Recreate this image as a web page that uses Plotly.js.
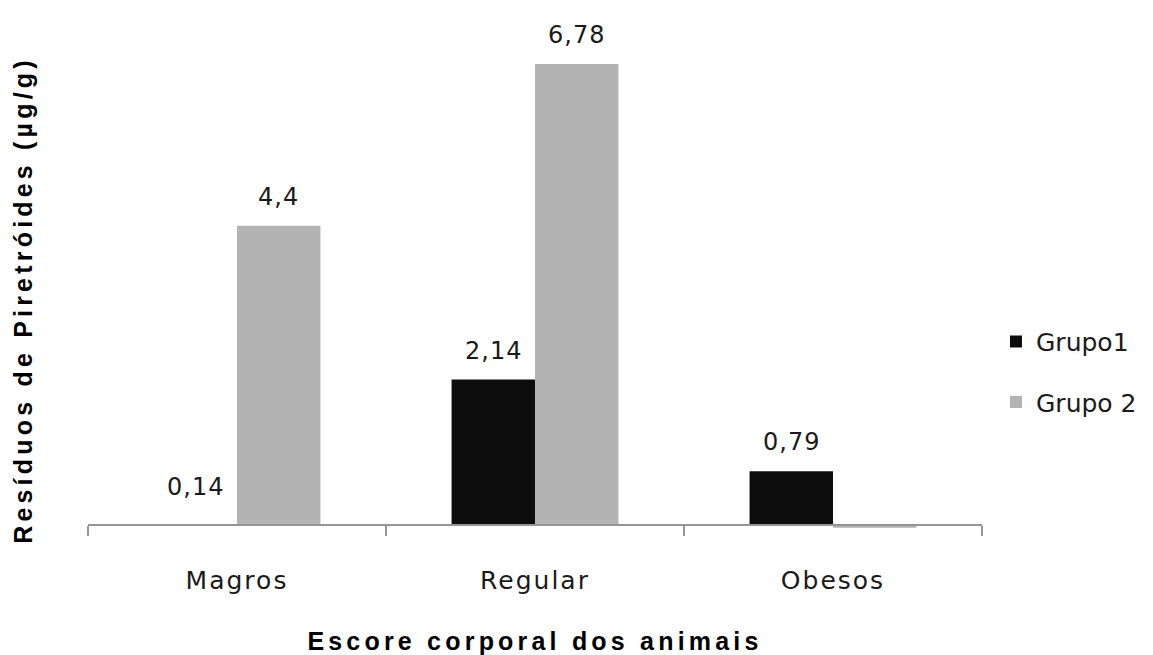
<!DOCTYPE html>
<html>
<head>
<meta charset="utf-8">
<script src="https://cdn.plot.ly/plotly-3.0.1.min.js"></script>
<style>
  html, body { margin: 0; padding: 0; background: #fff; }
  #chart { width: 1153px; height: 655px; }
  .xtitle, .ytitle { letter-spacing: 4.2px; }
  .xtick text { letter-spacing: 2px; }
  .annotation-text { letter-spacing: 1px; }
</style>
</head>
<body>
<div id="chart"></div>
<script>
// Body-score categories and pyrethroid residues (µg/g) for each group
const categories = ['Magros', 'Regular', 'Obesos'];
const grupo1 = [0.14, 2.14, 0.79];
const grupo2 = [4.4, 6.78, -0.04];
// Which bars carry a value label
const showLabel1 = [true, true, true];
const showLabel2 = [true, true, false];

const colorG1 = '#0d0d0d';
const colorG2 = '#b3b3b3';
const bargap = 0.44;
const yRange = [-0.882, 7.5];

const fmt = v => String(v).replace('.', ',');

// The 0,14 bar is barely above the axis; it is kept in the data but left unfilled.
const g1Opacity = grupo1.map((v, i) => i === 0 ? 0 : 1);

const traces = [
  {
    type: 'bar', name: 'Grupo1', x: categories, y: grupo1,
    marker: { color: colorG1, opacity: g1Opacity }, legendgroup: 'g1',
    hoverinfo: 'x+y+name'
  },
  {
    type: 'bar', name: 'Grupo 2', x: categories, y: grupo2,
    marker: { color: colorG2 }, legendgroup: 'g2',
    hoverinfo: 'x+y+name'
  }
];

// Value labels placed over each bar of the group (bar width in category units)
const barW = (1 - bargap) / 2;
const annotations = [];
grupo1.forEach((v, i) => {
  if (!showLabel1[i]) return;
  annotations.push({ x: i - barW / 2, y: Math.max(v, 0), text: fmt(v) });
});
grupo2.forEach((v, i) => {
  if (!showLabel2[i]) return;
  annotations.push({ x: i + barW / 2, y: Math.max(v, 0), text: fmt(v) });
});
annotations.forEach(a => Object.assign(a, {
  xref: 'x', yref: 'y', showarrow: false, yanchor: 'bottom', yshift: 13,
  font: { family: 'DejaVu Sans', size: 24, color: '#1a1a1a' }
}));

const layout = {
  width: 1153, height: 655,
  margin: { l: 88, r: 170, t: 15, b: 70 },
  paper_bgcolor: '#ffffff', plot_bgcolor: 'rgba(0,0,0,0)',
  barmode: 'group', bargap: bargap, bargroupgap: 0,
  showlegend: true,
  legend: {
    x: 1.0145, xanchor: 'left', y: 0.374, yanchor: 'middle',
    font: { family: 'DejaVu Sans', size: 25, color: '#1a1a1a' },
    tracegroupgap: 25, bgcolor: 'rgba(0,0,0,0)'
  },
  xaxis: {
    type: 'category', range: [-0.5, 2.5],
    anchor: 'free', position: -yRange[0] / (yRange[1] - yRange[0]),
    showline: true, linecolor: '#959595', linewidth: 2,
    ticks: 'outside', tickson: 'boundaries', ticklen: 10, tickwidth: 2, tickcolor: '#959595',
    ticklabelstandoff: 33,
    tickfont: { family: 'DejaVu Sans', size: 25, color: '#1a1a1a' },
    showgrid: false, zeroline: false,
    title: {
      text: 'Escore corporal dos animais', standoff: 43,
      font: { family: 'Liberation Sans', size: 25, color: '#000', weight: 'bold' }
    }
  },
  yaxis: {
    range: yRange, showticklabels: false, ticks: '', showgrid: false,
    zeroline: false, showline: false,
    title: {
      text: 'Resíduos de Piretróides (µg/g)', standoff: 47,
      font: { family: 'Liberation Sans', size: 25, color: '#000', weight: 'bold' }
    }
  },
  annotations: annotations
};

Plotly.newPlot('chart', traces, layout, { displayModeBar: false, staticPlot: true });
</script>
</body>
</html>
